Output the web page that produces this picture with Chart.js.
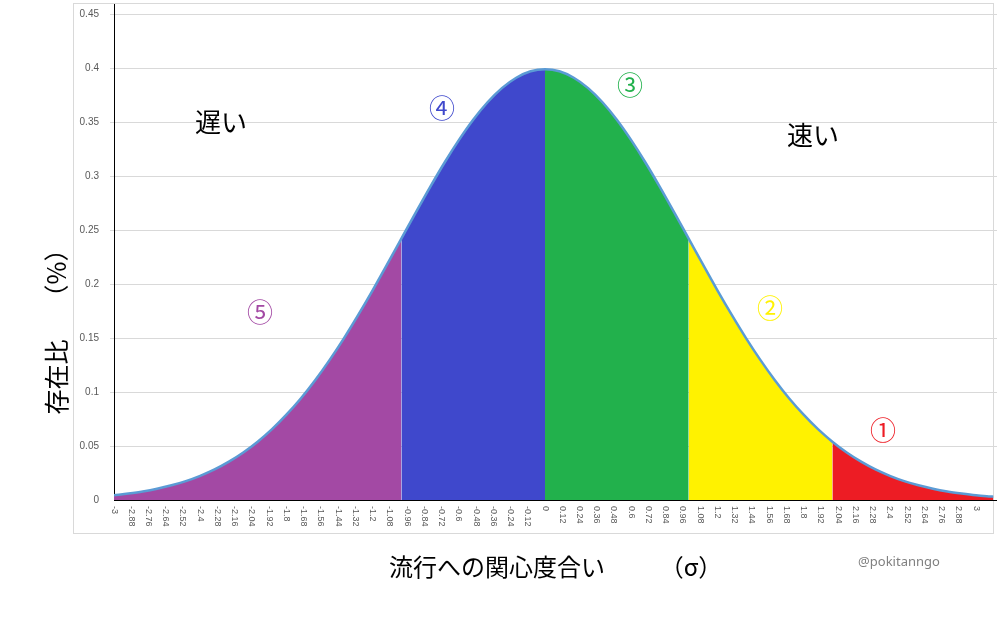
<!DOCTYPE html>
<html>
<head>
<meta charset="utf-8">
<script src="https://cdn.jsdelivr.net/npm/chart.js@4/dist/chart.umd.min.js"></script>
<style>
  html, body { margin: 0; padding: 0; background: #ffffff; }
  canvas { display: block; }
</style>
</head>
<body>
<canvas id="c" width="997" height="643"></canvas>
<script>
// ---- data ----
const xValues = [-3.0, -2.9, -2.8, -2.7, -2.6, -2.5, -2.4, -2.3, -2.2, -2.1,
  -2.0, -1.9, -1.8, -1.7, -1.6, -1.5, -1.4, -1.3, -1.2, -1.1,
  -1.0, -0.9, -0.8, -0.7, -0.6, -0.5, -0.4, -0.3, -0.2, -0.1,
  0.0, 0.1, 0.2, 0.3, 0.4, 0.5, 0.6, 0.7, 0.8, 0.9,
  1.0, 1.1, 1.2, 1.3, 1.4, 1.5, 1.6, 1.7, 1.8, 1.9,
  2.0, 2.1, 2.2, 2.3, 2.4, 2.5, 2.6, 2.7, 2.8, 2.9,
  3.0, 3.1, 3.12];
const density = [0.0044, 0.0060, 0.0079, 0.0104, 0.0136, 0.0175, 0.0224, 0.0283, 0.0355, 0.0440,
  0.0540, 0.0656, 0.0790, 0.0940, 0.1109, 0.1295, 0.1497, 0.1714, 0.1942, 0.2179,
  0.2420, 0.2661, 0.2897, 0.3123, 0.3332, 0.3521, 0.3683, 0.3814, 0.3910, 0.3970,
  0.3989, 0.3970, 0.3910, 0.3814, 0.3683, 0.3521, 0.3332, 0.3123, 0.2897, 0.2661,
  0.2420, 0.2179, 0.1942, 0.1714, 0.1497, 0.1295, 0.1109, 0.0940, 0.0790, 0.0656,
  0.0540, 0.0440, 0.0355, 0.0283, 0.0224, 0.0175, 0.0136, 0.0104, 0.0079, 0.0060,
  0.0044, 0.0033, 0.0031];
const regionStarts = [-3, -1, 0, 1, 2];
const regionEnds   = [-1, 0, 1, 2, 3.12];
const regionLabels = ['⑤', '④', '③', '②', '①'];
const regionColors = ['#A349A4', '#3F48CC', '#22B14C', '#FFF200', '#ED1C24'];
const xTickValues = [-3, -2.88, -2.76, -2.64, -2.52, -2.4, -2.28, -2.16, -2.04, -1.92,
  -1.8, -1.68, -1.56, -1.44, -1.32, -1.2, -1.08, -0.96, -0.84, -0.72,
  -0.6, -0.48, -0.36, -0.24, -0.12, 0, 0.12, 0.24, 0.36, 0.48,
  0.6, 0.72, 0.84, 0.96, 1.08, 1.2, 1.32, 1.44, 1.56, 1.68,
  1.8, 1.92, 2.04, 2.16, 2.28, 2.4, 2.52, 2.64, 2.76, 2.88, 3];
const yTickValues = [0, 0.05, 0.1, 0.15, 0.2, 0.25, 0.3, 0.35, 0.4, 0.45];
const yTitleMain = '存在比';
const yTitleUnit = '（%）';
const xTitleMain = '流行への関心度合い';
const xTitleUnit = '（σ）';
const slowLabel = '遅い';
const fastLabel = '速い';
const credit = '@pokitanngo';

// ---- build datasets ----
const points = xValues.map((x, i) => ({ x: x, y: density[i] }));
const datasets = [{
  label: 'curve',
  data: points,
  borderColor: '#5B9BD5',
  borderWidth: 2.5,
  pointRadius: 0,
  fill: false,
  cubicInterpolationMode: 'monotone',
  order: 0
}];
regionStarts.forEach((lo, k) => {
  const hi = regionEnds[k];
  datasets.push({
    label: regionLabels[k],
    data: points.filter(p => p.x >= lo - 1e-9 && p.x <= hi + 1e-9),
    borderWidth: 0,
    borderColor: 'rgba(0,0,0,0)',
    backgroundColor: regionColors[k],
    pointRadius: 0,
    fill: 'origin',
    cubicInterpolationMode: 'monotone',
    order: 1
  });
});

const fmt = v => String(parseFloat(v.toFixed(2)));

const decorPlugin = {
  id: 'decor',
  beforeDraw(chart) {
    const c = chart.ctx;
    c.save();
    c.fillStyle = '#ffffff';
    c.fillRect(0, 0, chart.width, chart.height);
    c.strokeStyle = '#d9d9d9';
    c.lineWidth = 1;
    c.strokeRect(73.5, 3.5, 920, 530);
    c.restore();
  },
  afterDraw(chart) {
    const c = chart.ctx;
    const xs = chart.scales.x;
    const ya = chart.chartArea;
    c.save();
    // x tick labels, rotated clockwise
    c.fillStyle = '#595959';
    c.font = '9px "Liberation Sans", Arial, sans-serif';
    c.textAlign = 'left';
    c.textBaseline = 'middle';
    xTickValues.forEach(v => {
      const px = xs.getPixelForValue(v);
      c.save();
      c.translate(px, ya.bottom + 6);
      c.rotate(Math.PI / 2);
      c.fillText(fmt(v), 0, 0);
      c.restore();
    });
    // titles
    c.fillStyle = '#000000';
    c.font = '25px "Noto Sans CJK JP", sans-serif';
    c.textAlign = 'center';
    c.textBaseline = 'middle';
    c.save();
    c.translate(56, 377);
    c.rotate(-Math.PI / 2);
    c.fillText(yTitleMain, 0, 0);
    c.restore();
    c.save();
    c.translate(56, 273);
    c.rotate(-Math.PI / 2);
    c.fillText(yTitleUnit, 0, 0);
    c.restore();
    c.font = '24px "Noto Sans CJK JP", sans-serif';
    c.textAlign = 'left';
    c.fillText(xTitleMain, 389, 567);
    c.textAlign = 'center';
    c.fillText(xTitleUnit, 691, 567);
    // slow / fast
    c.font = '26px "Noto Sans CJK JP", sans-serif';
    c.fillText(slowLabel, 221, 122);
    c.fillText(fastLabel, 813, 135);
    // region numbers
    const numPos = [[260, 312], [442, 108], [630, 85], [770, 308], [883, 430]];
    c.font = '26px "Noto Sans CJK JP", sans-serif';
    regionLabels.forEach((t, k) => {
      c.fillStyle = regionColors[k];
      c.fillText(t, numPos[k][0], numPos[k][1]);
    });
    // credit
    c.fillStyle = '#808080';
    c.font = '13px "Noto Sans", sans-serif';
    c.fillText(credit, 899, 562);
    c.restore();
  }
};

new Chart(document.getElementById('c'), {
  type: 'line',
  data: { datasets: datasets },
  plugins: [decorPlugin],
  options: {
    responsive: false,
    animation: false,
    devicePixelRatio: 1,
    layout: { padding: { left: 0, top: 4, right: 0, bottom: 0 } },
    plugins: { legend: { display: false }, tooltip: { enabled: false } },
    scales: {
      x: {
        type: 'linear',
        min: -3,
        max: 3.146,
        z: 1,
        afterBuildTicks: axis => { axis.ticks = xTickValues.map(v => ({ value: v })); },
        afterFit: axis => { axis.height = 143; axis.paddingLeft = 0; axis.paddingRight = 0; },
        ticks: { display: false },
        grid: { display: false, drawTicks: false },
        border: { display: true, color: '#000000', width: 1 }
      },
      y: {
        type: 'linear',
        min: 0,
        max: 0.4593,
        z: 1,
        afterBuildTicks: axis => { axis.ticks = yTickValues.map(v => ({ value: v })); },
        afterFit: axis => { axis.width = 114; axis.paddingTop = 0; axis.paddingBottom = 0; },
        ticks: {
          color: '#595959',
          font: { size: 10, family: '"Liberation Sans", Arial, sans-serif' },
          padding: 11,
          callback: v => fmt(v)
        },
        grid: {
          color: ctx => (ctx.tick && ctx.tick.value === 0) ? 'rgba(0,0,0,0)' : '#d9d9d9',
          tickLength: 4,
          lineWidth: 1
        },
        border: { display: true, color: '#000000', width: 1 }
      }
    }
  }
});
</script>
</body>
</html>
